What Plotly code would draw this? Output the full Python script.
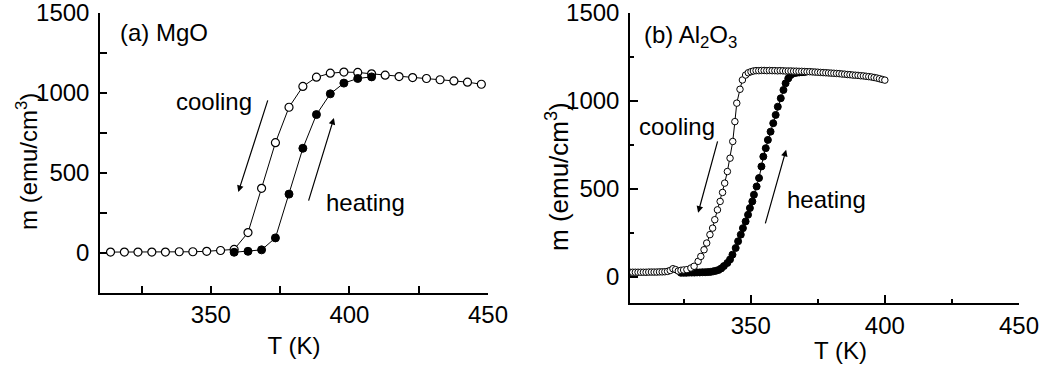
import plotly.graph_objects as go

# ---------------- Panel (a) MgO ----------------
cool_T_a = [313.8, 318.8, 323.7, 328.7, 333.6, 338.6, 343.5, 348.5, 353.5, 358.4,
            363.4, 368.3, 373.3, 378.2, 383.2, 388.1, 393.1, 398.0, 403.0, 408.0,
            412.9, 417.9, 422.8, 427.8, 432.7, 437.7, 442.6, 447.6]
cool_m_a = [3, 3, 3, 3, 3, 5, 5, 8, 13, 20,
            125, 402, 688, 910, 1040, 1098, 1123, 1130, 1128, 1119,
            1111, 1102, 1096, 1090, 1082, 1075, 1067, 1054]

heat_T_a = [358.4, 363.4, 368.3, 373.3, 378.2, 383.2, 388.1, 393.1, 398.0, 403.0, 408.0]
heat_m_a = [2, 8, 17, 92, 366, 653, 864, 994, 1061, 1090, 1100]

# ---------------- Panel (b) Al2O3 ----------------
cool_T_b = [305, 306, 307, 308, 309, 310, 311, 312, 313, 314,
            315, 316, 317, 318, 319, 320, 321, 322, 323, 324,
            325, 326.2, 327.7, 328.9, 330.4, 331.4, 332.6, 333.6, 334.8, 335.8,
            336.6, 337.6, 338.6, 339.5, 340.3, 341.3, 342.3, 343.3, 344.1, 344.8,
            346.0, 346.9, 348.1, 349.1, 350.1, 351, 352, 353, 354, 355,
            356, 357, 358, 359, 360, 361, 362, 363, 364, 365,
            366, 367, 368, 369, 370, 371, 372, 373, 374, 375,
            376, 377, 378, 379, 380, 381, 382, 383, 384, 385,
            386, 387, 388, 389, 390, 391, 392, 393, 394, 395,
            396, 397, 398, 399, 400]
cool_m_b = [25, 25, 25, 25, 25, 25, 25, 26, 26, 26,
            26, 27, 27, 28, 30, 35, 45, 40, 32, 36,
            38, 40, 49, 59, 87, 115, 153, 191, 239, 276,
            324, 380, 428, 479, 532, 598, 674, 769, 882, 987,
            1066, 1119, 1147, 1160, 1166, 1170, 1172, 1172, 1173, 1173,
            1172, 1173, 1172, 1172, 1171, 1172, 1171, 1170, 1170, 1170,
            1169, 1169, 1168, 1168, 1167, 1166, 1166, 1165, 1164, 1163,
            1162, 1161, 1160, 1159, 1158, 1157, 1156, 1155, 1153, 1152,
            1150, 1149, 1147, 1146, 1145, 1143, 1142, 1140, 1138, 1136,
            1133, 1130, 1126, 1122, 1118]

heat_T_b = [324, 325, 326, 327, 328, 329, 330, 331, 332, 333,
            334, 335, 336, 337, 338, 339, 340, 341.3, 342.3, 343.2,
            344.4, 345.3, 346.3, 347.1, 348.1, 349.0, 349.7, 350.6, 351.2, 352.2,
            353.1, 354.0, 354.7, 355.6, 356.4, 357.4, 358.4, 359.3, 360.1, 361.2,
            362.2, 363.0, 364.0, 364.9, 366.1, 367.1, 368.1, 369.1, 370.1]
heat_m_b = [22, 22, 22, 23, 23, 23, 24, 24, 25, 25,
            26, 27, 30, 33, 38, 47, 60, 78, 98, 125,
            163, 201, 239, 276, 314, 352, 390, 428, 466, 513,
            561, 627, 683, 731, 778, 825, 873, 920, 967, 1015,
            1062, 1100, 1128, 1147, 1157, 1160, 1162, 1163, 1164]

FONT = "Liberation Sans, Arial, sans-serif"
FS = 24

fig = go.Figure()

# panel a
fig.add_trace(go.Scatter(x=cool_T_a, y=cool_m_a, mode="lines+markers", xaxis="x", yaxis="y",
                         line=dict(color="black", width=1),
                         marker=dict(symbol="circle", size=8, color="white",
                                     line=dict(color="black", width=1.2)),
                         showlegend=False, name="cooling"))
fig.add_trace(go.Scatter(x=heat_T_a, y=heat_m_a, mode="lines+markers", xaxis="x", yaxis="y",
                         line=dict(color="black", width=1),
                         marker=dict(symbol="circle", size=8, color="black",
                                     line=dict(color="black", width=1)),
                         showlegend=False, name="heating"))

# panel b
fig.add_trace(go.Scatter(x=heat_T_b, y=heat_m_b, mode="lines+markers", xaxis="x2", yaxis="y2",
                         line=dict(color="black", width=1),
                         marker=dict(symbol="circle", size=7, color="black",
                                     line=dict(color="black", width=1)),
                         showlegend=False, name="heating"))
fig.add_trace(go.Scatter(x=cool_T_b, y=cool_m_b, mode="lines+markers", xaxis="x2", yaxis="y2",
                         line=dict(color="black", width=1),
                         marker=dict(symbol="circle", size=6.5, color="white",
                                     line=dict(color="black", width=1)),
                         showlegend=False, name="cooling"))

axis_common = dict(showgrid=False, zeroline=False, showline=True, linecolor="black",
                   linewidth=1.5, ticks="inside", tickcolor="black", tickwidth=1.5,
                   tickfont=dict(family=FONT, size=FS, color="black"),
                   ticklabeloverflow="allow",
                   automargin=False, mirror=False)

fig.update_layout(
    width=1043, height=370,
    margin=dict(l=100, r=24, t=13, b=67),
    paper_bgcolor="white", plot_bgcolor="white",
    font=dict(family=FONT, size=FS, color="black"),
    xaxis=dict(axis_common, domain=[0.0, 0.4222], range=[310, 450], dtick=50, tick0=350,
               ticklen=7, minor=dict(ticks="inside", dtick=25, tick0=325, ticklen=7,
                                     tickwidth=1.5, tickcolor="black"),
               title=dict(text="T (K)", font=dict(family=FONT, size=FS), standoff=10),
               anchor="y"),
    yaxis=dict(axis_common, domain=[0.0362, 1.0], range=[-250, 1500], dtick=500, tick0=0,
               ticklen=7, ticklabelstandoff=4,
               minor=dict(ticks="inside", dtick=250, tick0=0, ticklen=7,
                          tickwidth=1.5, tickcolor="black"),
               anchor="x"),
    xaxis2=dict(axis_common, domain=[0.5767, 1.0], range=[305, 450], dtick=50, tick0=350,
                ticklen=8, minor=dict(ticks="inside", dtick=25, tick0=325, ticklen=4,
                                      tickwidth=1.5, tickcolor="black"),
                anchor="y2"),
    yaxis2=dict(axis_common, domain=[0.0, 1.0], range=[-150, 1500], dtick=500, tick0=0,
                ticklen=8, ticklabelstandoff=4,
                minor=dict(ticks="inside", dtick=250, tick0=0, ticklen=4,
                           tickwidth=1.5, tickcolor="black"),
                anchor="x2"),
)

# axis titles placed as in the reference (paper coords: plot area x 100..1019, y 13..303)
def ptitle(px, py, s, angle=0, size=FS):
    fig.add_annotation(x=(px - 100) / 919, y=(303 - py) / 290, xref="paper", yref="paper",
                       text=s, showarrow=False, textangle=angle,
                       xanchor="center", yanchor="middle",
                       font=dict(family=FONT, size=size, color="black"))

ptitle(27, 162, "m (emu/cm<sup>3</sup>)", -90)
ptitle(557, 177, "m (emu/cm<sup>3</sup>)", -90, 26)
ptitle(840, 351, "T (K)")

def txt(x, y, s, xref, yref, xanchor="center"):
    fig.add_annotation(x=x, y=y, xref=xref, yref=yref, text=s, showarrow=False,
                       xanchor=xanchor, yanchor="middle",
                       font=dict(family=FONT, size=FS, color="black"))

def arrow(x0, y0, x1, y1, xref, yref):
    fig.add_annotation(x=x1, y=y1, ax=x0, ay=y0, xref=xref, yref=yref,
                       axref=xref, ayref=yref, text="", showarrow=True,
                       arrowhead=2, arrowsize=1.1, arrowwidth=1.2, arrowcolor="black")

# panel a texts
txt(316.4, 1377, "(a) MgO", "x", "y", "left")
txt(351.3, 943, "cooling", "x", "y")
txt(405.9, 316, "heating", "x", "y")
arrow(370.7, 962, 359.9, 379, "x", "y")
arrow(385.1, 316, 394.4, 843, "x", "y")

# panel b texts
txt(309.5, 1364, "(b) Al<sub>2</sub>O<sub>3</sub>", "x2", "y2", "left")
txt(322.5, 852, "cooling", "x2", "y2")
txt(378.1, 438, "heating", "x2", "y2")
arrow(337.8, 778, 330.4, 364, "x2", "y2")
arrow(355.3, 295, 363.2, 722, "x2", "y2")

fig.write_html("out.html")
